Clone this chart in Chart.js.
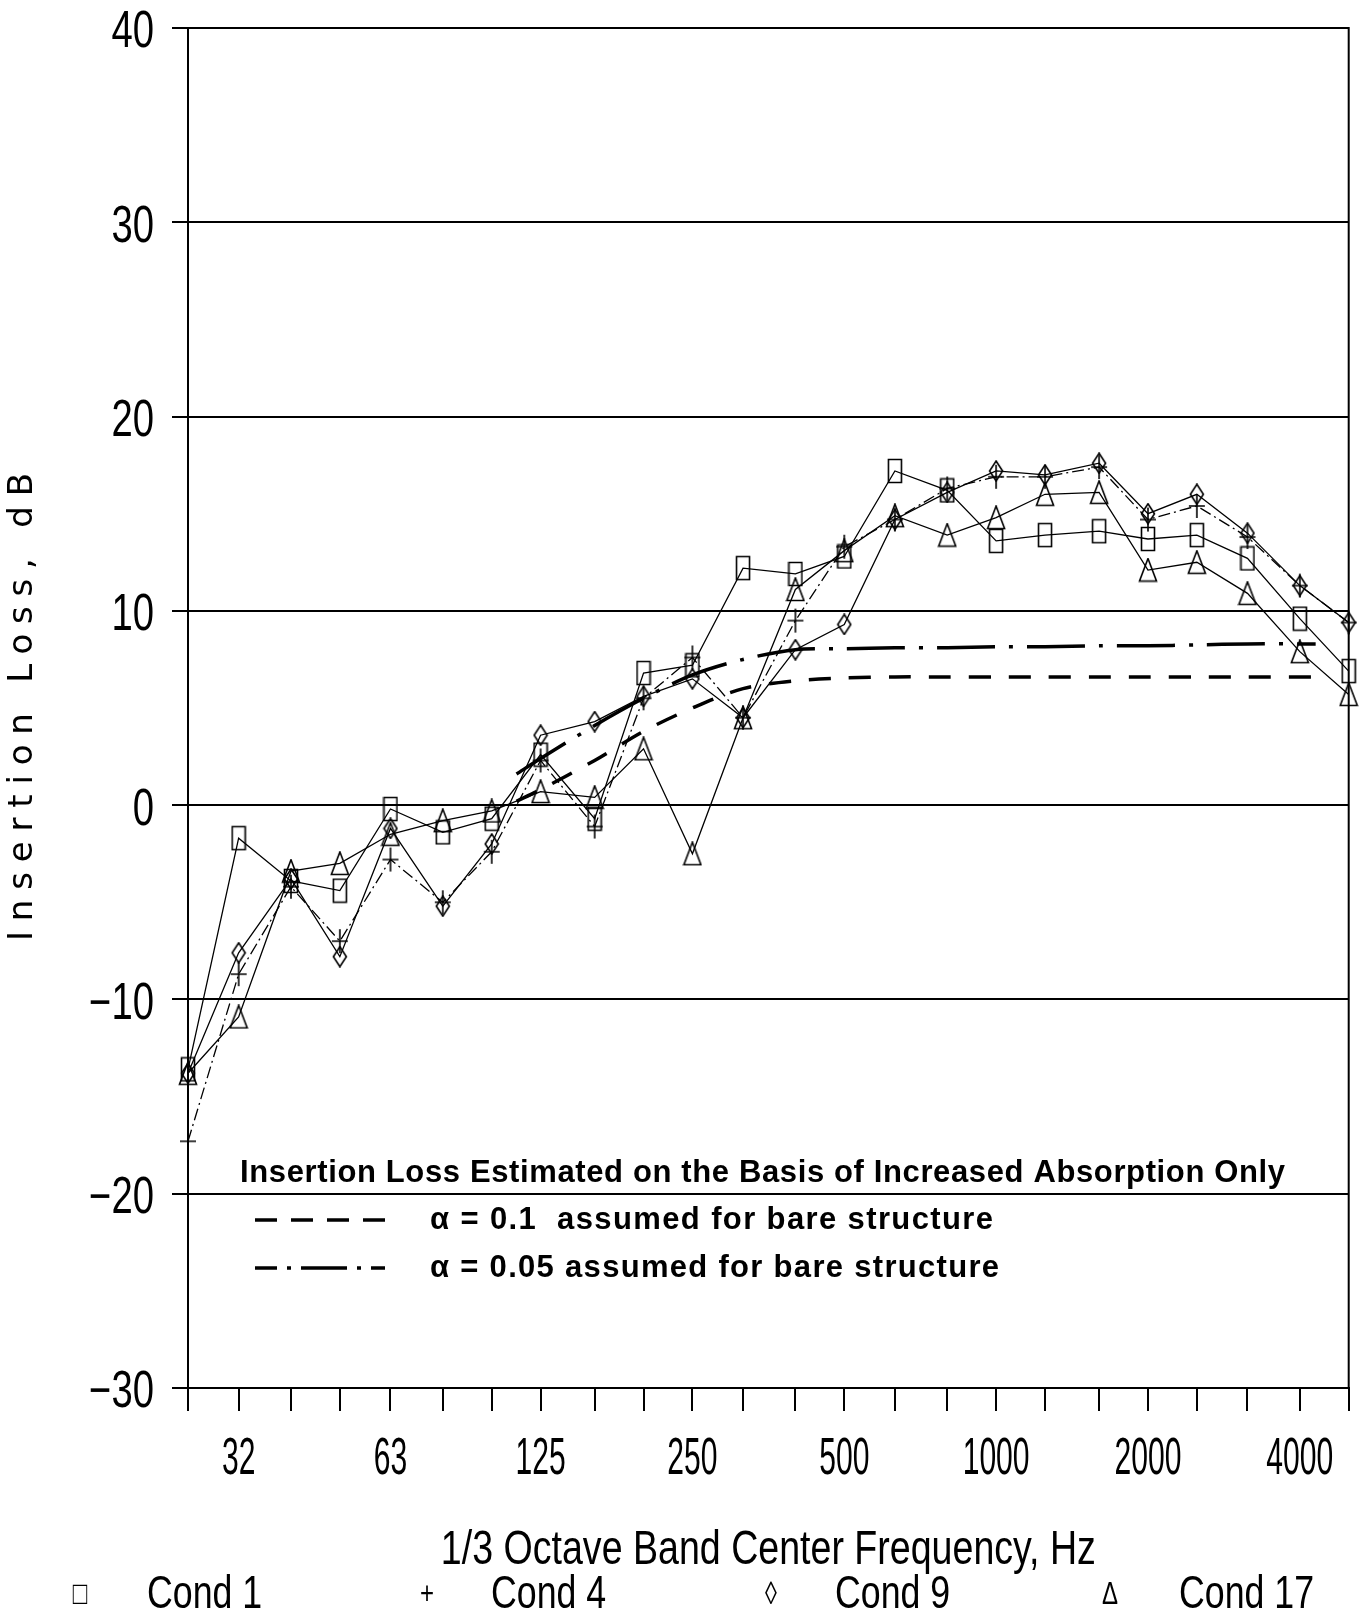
<!DOCTYPE html>
<html>
<head>
<meta charset="utf-8">
<script src="https://cdn.jsdelivr.net/npm/chart.js@4.4.1/dist/chart.umd.min.js"></script>
<style>
  html, body { margin: 0; padding: 0; background: #fff; }
  #wrap { width: 1360px; height: 1612px; }
</style>
</head>
<body>
<div id="wrap"><canvas id="chart"></canvas></div>
<script>
// 1/3 octave band centre frequencies, Hz
const bands = [25, 31.5, 40, 50, 63, 80, 100, 125, 160, 200, 250, 315, 400, 500, 630, 800, 1000, 1250, 1600, 2000, 2500, 3150, 4000, 5000];
const bandLabels = ['', '32', '', '', '63', '', '', '125', '', '', '250', '', '', '500', '', '', '1000', '', '', '2000', '', '', '4000', ''];
const yTicks = [-30, -20, -10, 0, 10, 20, 30, 40];

// measured insertion loss, dB
const cond1 = [-13.6, -1.7, -3.9, -4.4, -0.2, -1.4, -0.7, 2.6, -0.7, 6.8, 7.2, 12.2, 11.9, 12.8, 17.2, 16.2, 13.6, 13.9, 14.1, 13.7, 13.9, 12.7, 9.6, 6.9];
const cond4 = [-17.3, -8.7, -4.2, -7.0, -2.8, -5.0, -2.4, 2.3, -1.1, 5.5, 7.6, 4.5, 9.5, 13.3, 14.7, 16.3, 16.9, 16.9, 17.4, 14.7, 15.4, 13.8, 11.3, 9.4];
const cond9 = [-13.8, -7.6, -3.8, -7.8, -1.2, -5.2, -2.0, 3.6, 4.3, 5.6, 6.5, 4.5, 8.0, 9.3, 14.7, 16.1, 17.2, 17.0, 17.6, 15.0, 16.0, 14.0, 11.3, 9.4];
const cond17 = [-13.8, -10.9, -3.4, -3.0, -1.5, -0.8, -0.3, 0.7, 0.4, 2.9, -2.5, 4.5, 11.1, 13.1, 14.9, 13.9, 14.8, 16.0, 16.1, 12.1, 12.5, 10.9, 7.9, 5.7];

// insertion loss estimated from increased absorption only
const estFreq = [112, 125, 160, 200, 250, 315, 400, 500, 630, 800, 1000, 1250, 1600, 2000, 2500, 3150, 4000, 4300];
const estAlpha10 = [0.2, 0.8, 2.3, 3.8, 5.0, 6.0, 6.4, 6.55, 6.6, 6.6, 6.6, 6.6, 6.6, 6.6, 6.6, 6.6, 6.6, 6.6];
const estAlpha05 = [1.6, 2.4, 4.1, 5.5, 6.7, 7.5, 8.0, 8.05, 8.1, 8.1, 8.15, 8.15, 8.2, 8.2, 8.25, 8.3, 8.3, 8.3];

const condNames = ['Cond 1', 'Cond 4', 'Cond 9', 'Cond 17'];
const condGlyphs = ['\u25A1', '+', '\u25CA', '\u0394'];
const estTitle = 'Insertion Loss Estimated on the Basis of Increased Absorption Only';
const estNames = ['\u03B1 = 0.1  assumed for bare structure', '\u03B1 = 0.05 assumed for bare structure'];
const xTitle = '1/3 Octave Band Center Frequency, Hz';
const yTitle = 'Insertion Loss, dB';

const PLOT_FONT = '"Liberation Sans", Arial, sans-serif';

function marker(w, h, draw) {
  const c = document.createElement('canvas');
  c.width = w; c.height = h;
  const g = c.getContext('2d');
  g.strokeStyle = '#000';
  g.lineWidth = 1.6;
  g.beginPath();
  draw(g, w, h);
  g.stroke();
  return c;
}
const squareMark = marker(16, 26, (g, w, h) => g.rect(1.5, 1.5, w - 3, h - 3));
const plusMark = marker(18, 26, (g, w, h) => {
  g.moveTo(w / 2, 1); g.lineTo(w / 2, h - 1);
  g.moveTo(1, h / 2); g.lineTo(w - 1, h / 2);
});
const diamondMark = marker(16, 22, (g, w, h) => {
  g.moveTo(w / 2, 1); g.lineTo(w - 1.5, h / 2); g.lineTo(w / 2, h - 1); g.lineTo(1.5, h / 2); g.closePath();
});
const triangleMark = marker(20, 25, (g, w, h) => {
  g.moveTo(w / 2, 1); g.lineTo(w - 1.5, h - 1.5); g.lineTo(1.5, h - 1.5); g.closePath();
});

function series(label, values, mark, dash) {
  return {
    label: label,
    data: bands.map((f, i) => ({ x: f, y: values[i] })),
    borderColor: '#000',
    borderWidth: 1.3,
    borderDash: dash || [],
    pointStyle: mark,
    pointRadius: 10,
    pointHoverRadius: 10,
    tension: 0,
    fill: false,
    clip: false
  };
}

function estimate(label, values, dash) {
  return {
    label: label,
    data: estFreq.map((f, i) => ({ x: f, y: values[i] })),
    borderColor: '#000',
    borderWidth: 3.5,
    borderDash: dash,
    pointRadius: 0,
    tension: 0.3,
    fill: false
  };
}

// write text so that it spans a given width
function fitText(ctx, text, x, y, width) {
  ctx.letterSpacing = '0px';
  const w = ctx.measureText(text).width;
  ctx.letterSpacing = ((width - w) / (text.length - 1)) + 'px';
  ctx.textAlign = 'left';
  ctx.fillText(text, x, y);
  ctx.letterSpacing = '0px';
}

// narrow plotter lettering: squeeze the font horizontally, y is the middle of the capitals
function narrow(ctx, text, x, y, size, squeeze, align) {
  ctx.save();
  ctx.translate(x, y + 0.36 * size);
  ctx.scale(squeeze, 1);
  ctx.font = size + 'px ' + PLOT_FONT;
  ctx.textAlign = align;
  ctx.textBaseline = 'alphabetic';
  ctx.fillText(text, 0, 0);
  ctx.restore();
}

const decorations = {
  id: 'decorations',
  afterDraw(chart) {
    const ctx = chart.ctx;
    const a = chart.chartArea;
    const xs = chart.scales.x;
    const ys = chart.scales.y;
    ctx.save();
    ctx.strokeStyle = '#000';
    ctx.fillStyle = '#000';
    ctx.lineWidth = 2;
    ctx.strokeRect(a.left, a.top, a.right - a.left, a.bottom - a.top);

    // tick labels
    yTicks.forEach(v => {
      const t = v < 0 ? '\u2212' + Math.abs(v) : String(v);
      narrow(ctx, t, 154, ys.getPixelForValue(v) + 1, 51, 0.75, 'right');
    });
    bands.forEach((f, i) => {
      if (bandLabels[i]) narrow(ctx, bandLabels[i], xs.getPixelForValue(f), 1456, 51, 0.59, 'center');
    });

    // x axis title, squeezed to the width of the original lettering
    ctx.font = '49px ' + PLOT_FONT;
    const tw = ctx.measureText(xTitle).width;
    narrow(ctx, xTitle, (a.left + a.right) / 2, 1546, 49, 655 / tw, 'center');

    // y axis title
    ctx.save();
    ctx.translate(23, 707);
    ctx.rotate(-Math.PI / 2);
    ctx.font = '34px "DejaVu Sans", sans-serif';
    ctx.textBaseline = 'middle';
    fitText(ctx, yTitle, -234, 0, 468);
    ctx.restore();

    // box of estimated curves
    ctx.font = 'bold 31px "Liberation Sans", "DejaVu Sans", sans-serif';
    ctx.textBaseline = 'alphabetic';
    fitText(ctx, estTitle, 240, 1182, 1045);
    ctx.textBaseline = 'middle';
    fitText(ctx, estNames[0], 430, 1220, 563);
    fitText(ctx, estNames[1], 430, 1268, 569);
    ctx.lineWidth = 3.5;
    ctx.setLineDash([22, 14]);
    ctx.beginPath(); ctx.moveTo(255, 1220); ctx.lineTo(385, 1220); ctx.stroke();
    ctx.setLineDash([22, 10, 4, 10, 46, 10, 4, 10]);
    ctx.beginPath(); ctx.moveTo(255, 1268); ctx.lineTo(385, 1268); ctx.stroke();
    ctx.setLineDash([]);

    // condition legend under the axis title
    const markX = [80, 427, 771, 1110];
    const textX = [147, 491, 835, 1179];
    for (let i = 0; i < condNames.length; i++) {
      narrow(ctx, condGlyphs[i], markX[i], 1592, 32, 0.75, 'center');
      narrow(ctx, condNames[i], textX[i], 1591, 47, 0.76, 'left');
    }
    ctx.restore();
  }
};

new Chart(document.getElementById('chart'), {
  type: 'line',
  data: {
    datasets: [
      series('Cond 1', cond1, squareMark),
      series('Cond 4', cond4, plusMark, [12, 4, 2, 4]),
      series('Cond 9', cond9, diamondMark),
      series('Cond 17', cond17, triangleMark),
      estimate('alpha 0.1', estAlpha10, [22, 18]),
      estimate('alpha 0.05', estAlpha05, [58, 14, 4, 14])
    ]
  },
  options: {
    responsive: true,
    maintainAspectRatio: false,
    animation: false,
    layout: { padding: { top: 28, right: 10, bottom: 40, left: 0 } },
    plugins: { legend: { display: false }, tooltip: { enabled: false } },
    scales: {
      x: {
        type: 'logarithmic',
        min: 25,
        max: 5000,
        afterBuildTicks: (scale) => { scale.ticks = bands.map(f => ({ value: f })); },
        afterFit: (scale) => { scale.height = 184; },
        grid: { drawOnChartArea: false, drawTicks: true, tickLength: 23, color: '#000', lineWidth: 2 },
        border: { display: true, color: '#000', width: 2 },
        ticks: { display: false, autoSkip: false }
      },
      y: {
        min: -30,
        max: 40,
        afterFit: (scale) => { scale.width = 188; },
        grid: { color: '#000', lineWidth: 2, drawTicks: true, tickLength: 16 },
        border: { display: true, color: '#000', width: 2 },
        ticks: { display: false, stepSize: 10 }
      }
    }
  },
  plugins: [decorations]
});
</script>
</body>
</html>
